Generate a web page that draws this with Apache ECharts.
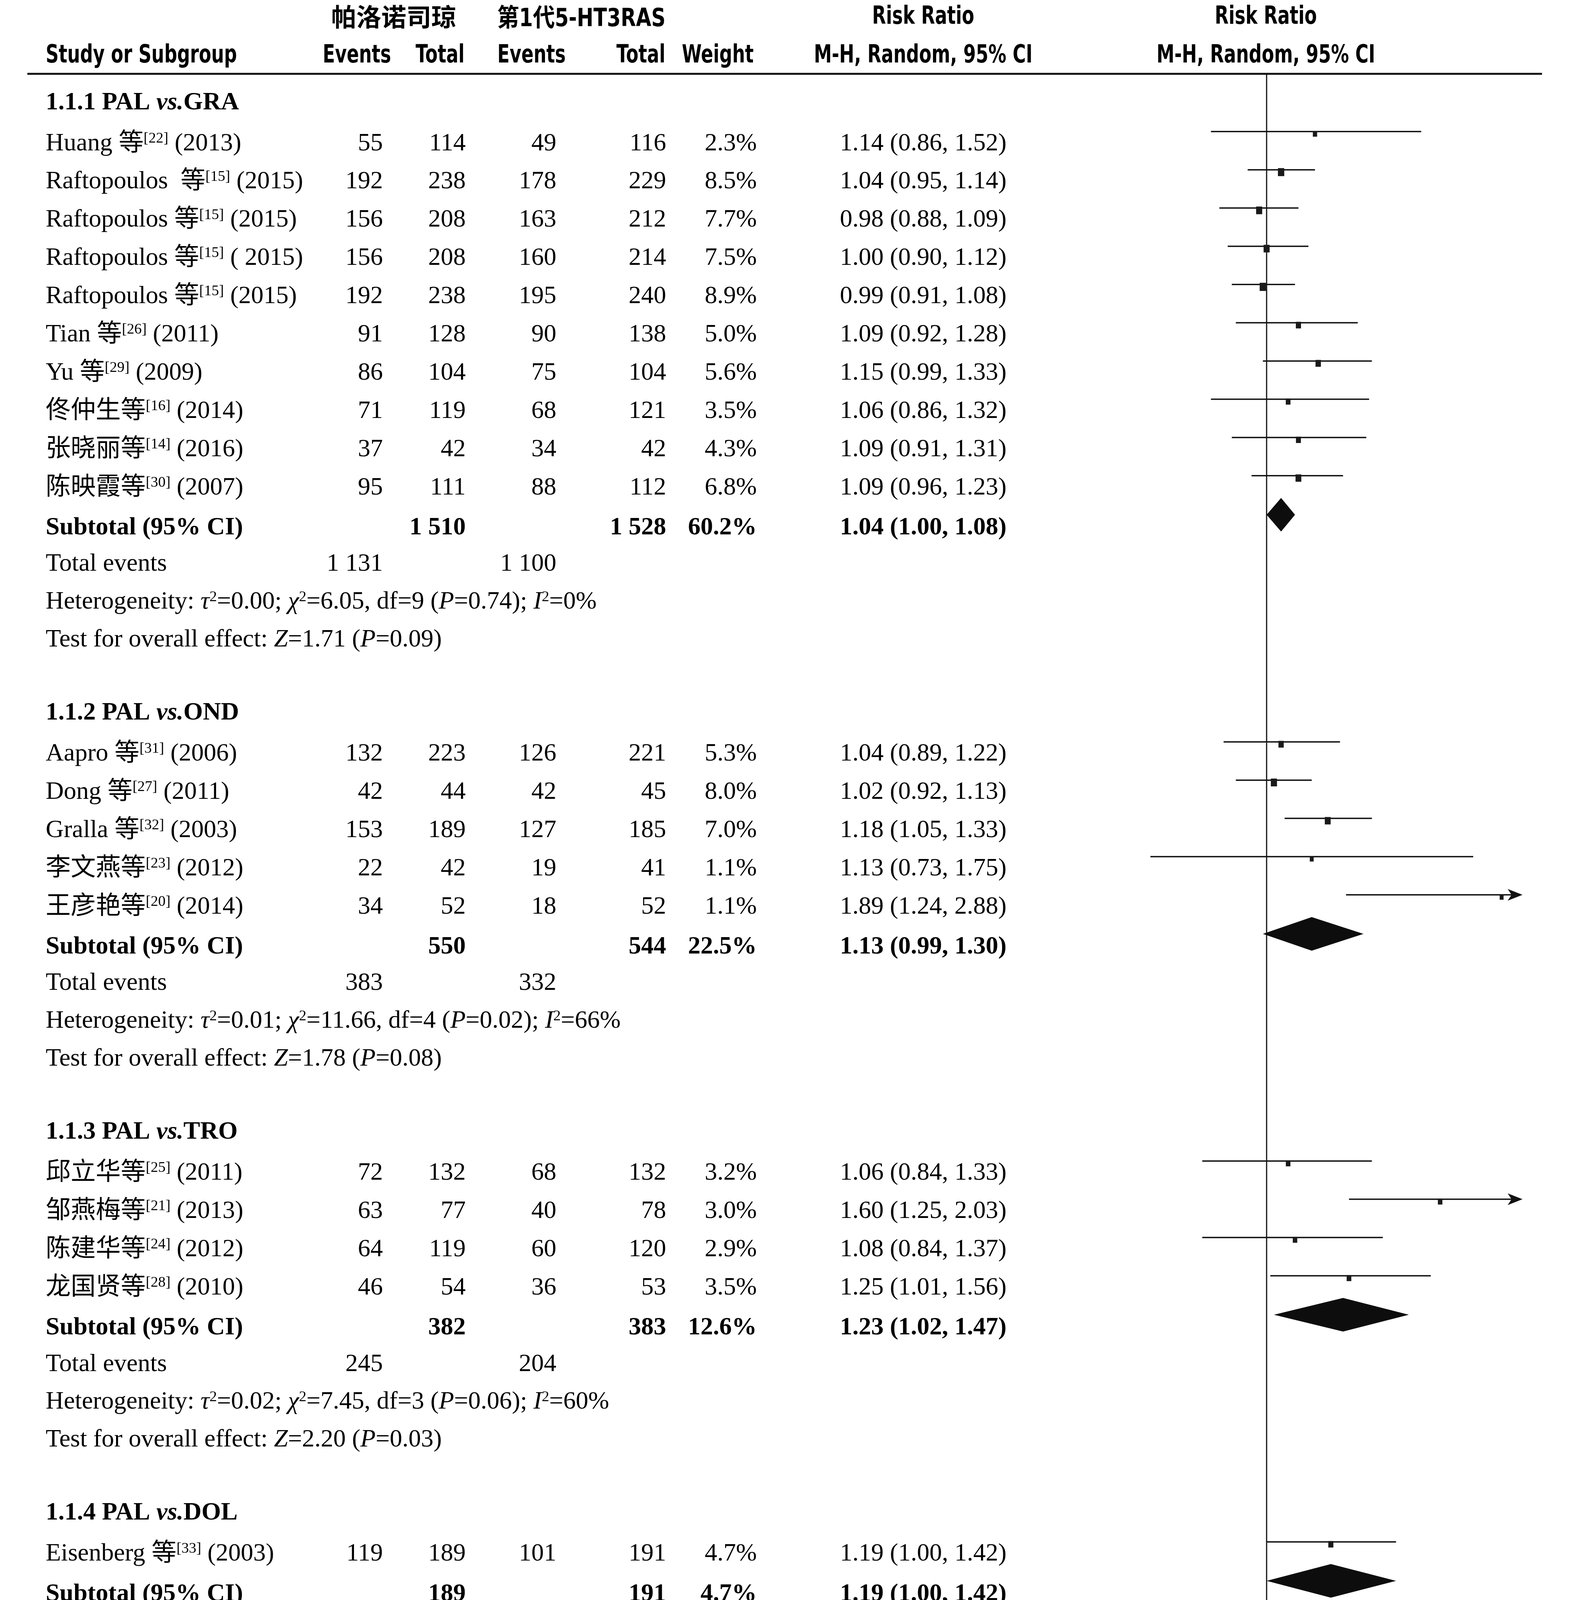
<!DOCTYPE html>
<html><head><meta charset="utf-8">
<script src="https://cdn.jsdelivr.net/npm/echarts@6/dist/echarts.min.js"></script>
<style>html,body{margin:0;padding:0;background:#fff;overflow:hidden}#c{width:4016px;height:5020px}</style>
</head><body><div id="c"></div>
<script>
// ---------------- DATA ----------------
const groupCodes   = ['1.1.1', '1.1.2', '1.1.3', '1.1.4'];
const groupCompare = ['GRA', 'OND', 'TRO', 'DOL'];
const studyGroup  = [0,0,0,0,0,0,0,0,0,0, 1,1,1,1,1, 2,2,2,2, 3];
const studyAuthor = ['Huang 等','Raftopoulos  等','Raftopoulos 等','Raftopoulos 等','Raftopoulos 等','Tian 等','Yu 等','佟仲生等','张晓丽等','陈映霞等',
                     'Aapro 等','Dong 等','Gralla 等','李文燕等','王彦艳等',
                     '邱立华等','邹燕梅等','陈建华等','龙国贤等',
                     'Eisenberg 等'];
const studyRef  = [22,15,15,15,15,26,29,16,14,30, 31,27,32,23,20, 25,21,24,28, 33];
const studyYear = ['(2013)','(2015)','(2015)','( 2015)','(2015)','(2011)','(2009)','(2014)','(2016)','(2007)',
                   '(2006)','(2011)','(2003)','(2012)','(2014)',
                   '(2011)','(2013)','(2012)','(2010)',
                   '(2003)'];
const palEvents = [55,192,156,156,192,91,86,71,37,95, 132,42,153,22,34, 72,63,64,46, 119];
const palTotal  = [114,238,208,208,238,128,104,119,42,111, 223,44,189,42,52, 132,77,119,54, 189];
const ctlEvents = [49,178,163,160,195,90,75,68,34,88, 126,42,127,19,18, 68,40,60,36, 101];
const ctlTotal  = [116,229,212,214,240,138,104,121,42,112, 221,45,185,41,52, 132,78,120,53, 191];
const weightPct = [2.3,8.5,7.7,7.5,8.9,5.0,5.6,3.5,4.3,6.8, 5.3,8.0,7.0,1.1,1.1, 3.2,3.0,2.9,3.5, 4.7];
const riskRatio = [1.14,1.04,0.98,1.00,0.99,1.09,1.15,1.06,1.09,1.09, 1.04,1.02,1.18,1.13,1.89, 1.06,1.60,1.08,1.25, 1.19];
const ciLow     = [0.86,0.95,0.88,0.90,0.91,0.92,0.99,0.86,0.91,0.96, 0.89,0.92,1.05,0.73,1.24, 0.84,1.25,0.84,1.01, 1.00];
const ciHigh    = [1.52,1.14,1.09,1.12,1.08,1.28,1.33,1.32,1.31,1.23, 1.22,1.13,1.33,1.75,2.88, 1.33,2.03,1.37,1.56, 1.42];

const subPalTotal  = [1510, 550, 382, 189];
const subCtlTotal  = [1528, 544, 383, 191];
const subWeight    = [60.2, 22.5, 12.6, 4.7];
const subRR        = [1.04, 1.13, 1.23, 1.19];
const subLow       = [1.00, 0.99, 1.02, 1.00];
const subHigh      = [1.08, 1.30, 1.47, 1.42];
const subPalEvents = [1131, 383, 245, 119];
const subCtlEvents = [1100, 332, 204, 101];
const subTau2 = ['0.00', '0.01', '0.02', null];
const subChi2 = ['6.05', '11.66', '7.45', null];
const subDf   = ['df=9', 'df=4', 'df=3', null];
const subHetP = ['0.74', '0.02', '0.06', null];
const subI2   = ['0', '66', '60', null];
const subZ    = ['1.71', '1.78', '2.20', '1.98'];
const subZP   = ['0.09', '0.08', '0.03', '0.05'];

const totPalTotal = 2631, totCtlTotal = 2646, totWeight = 100.0;
const totRR = 1.09, totLow = 1.04, totHigh = 1.14;
const totPalEvents = 1878, totCtlEvents = 1737;
const totTau2 = '0.00', totChi2 = '34.36', totDf = 'df =19', totHetP = '0.02', totI2 = '45';
const totZ = '3.54', totZP = '0.000 4';
const diffChi2 = '6.40', diffDf = 'df =3', diffP = '0.09', diffI2 = '53.2';

const tickValues = [0.5, 0.7, 1, 1.5, 2];
const tickLabels = ['0.5', '0.7', '1', '1.5', '2'];

// ---------------- LAYOUT / STYLE ----------------
const W = 4016, H = 5020;
const ROW0 = 263, STEP = 97.9;
const GRID_TOP = 189, GRID_BOT = 4736;
const X_LEFT = 2587, X_RIGHT = 3897;
const XMIN = 0.5, XMAX = 2;
const U_MIN = (GRID_TOP - ROW0) / STEP, U_MAX = (GRID_BOT - ROW0) / STEP;
const COL = {label: 117, ev1: 980, tot1: 1192, ev2: 1424, tot2: 1705, wt: 1937, ci: 2363};
const INK = '#111';

function hasFont(name) {
  const c = document.createElement('canvas').getContext('2d');
  const s = 'Study or Subgroup 0.5 Risk';
  c.font = 'bold 64px monospace'; const a = c.measureText(s).width;
  c.font = "bold 64px '" + name + "', monospace"; const b = c.measureText(s).width;
  return Math.abs(a - b) > 1;
}
let SANS, SX, SX_MIX;
if (hasFont('Liberation Sans Narrow')) { SANS = "'Liberation Sans Narrow','Noto Sans CJK SC',sans-serif"; SX = 1; SX_MIX = 1; }
else if (hasFont('DejaVu Sans Condensed')) { SANS = "'DejaVu Sans Condensed','Noto Sans CJK SC',sans-serif"; SX = 0.80; SX_MIX = 0.88; }
else { SANS = "'Liberation Sans','Noto Sans CJK SC',sans-serif"; SX = 0.82; SX_MIX = 0.9; }
const SERIF = "'Liberation Serif','Noto Sans CJK SC',serif";
const FS = 64, FS_SUP = 38;

function richFor(bold) {
  const w = bold ? 'bold' : 'normal';
  return {
    i:  {fontFamily: SERIF, fontSize: FS, fontWeight: w, fontStyle: 'italic', fill: '#000'},
    bi: {fontFamily: SERIF, fontSize: FS, fontWeight: 'bold', fontStyle: 'italic', fill: '#000'},
    s:  {fontFamily: SERIF, fontSize: FS_SUP, fontWeight: w, verticalAlign: 'top', fill: '#000'}
  };
}
const RICH = richFor(false), RICH_B = richFor(true);

const fmtN = n => n >= 1000 ? String(n).replace(/(\d)(?=(\d{3})+$)/g, '$1 ') : String(n);
const fmtCI = (r, l, h) => r.toFixed(2) + ' (' + l.toFixed(2) + ', ' + h.toFixed(2) + ')';
const hetText = (t, c, d, p, i) => 'Heterogeneity: {i|τ}{s|2}=' + t + '; {i|χ}{s|2}=' + c + ', ' + d + ' ({i|P}=' + p + '); {i|I}{s|2}=' + i + '%';
const testText = (z, p) => 'Test for overall effect: {i|Z}=' + z + ' ({i|P}=' + p + ')';

// ---------------- BUILD ROWS ----------------
const rows = [];
const studyMarks = [];
const sumMarks = [];
const C = (x, align, text, bold) => ({x, align, text, bold: !!bold});
let u = 0;
groupCodes.forEach((code, g) => {
  if (g > 0) u += 1.91;
  rows.push({u, cells: [C(COL.label, 'left', code + ' PAL {bi|vs.}' + groupCompare[g], true)]});
  let first = true;
  studyGroup.forEach((sg, i) => {
    if (sg !== g) return;
    u += first ? 1.07 : 1; first = false;
    rows.push({u, cells: [
      C(COL.label, 'left', studyAuthor[i] + '{s|[' + studyRef[i] + ']} ' + studyYear[i]),
      C(COL.ev1, 'right', fmtN(palEvents[i])), C(COL.tot1, 'right', fmtN(palTotal[i])),
      C(COL.ev2, 'right', fmtN(ctlEvents[i])), C(COL.tot2, 'right', fmtN(ctlTotal[i])),
      C(COL.wt, 'right', weightPct[i].toFixed(1) + '%'),
      C(COL.ci, 'center', fmtCI(riskRatio[i], ciLow[i], ciHigh[i]))
    ]});
    studyMarks.push([riskRatio[i], ciLow[i], ciHigh[i], u, weightPct[i]]);
  });
  u += 1.05;
  rows.push({u, cells: [
    C(COL.label, 'left', 'Subtotal (95% CI)', true),
    C(COL.tot1, 'right', fmtN(subPalTotal[g]), true), C(COL.tot2, 'right', fmtN(subCtlTotal[g]), true),
    C(COL.wt, 'right', subWeight[g].toFixed(1) + '%', true),
    C(COL.ci, 'center', fmtCI(subRR[g], subLow[g], subHigh[g]), true)
  ]});
  sumMarks.push([subRR[g], subLow[g], subHigh[g], u]);
  u += 0.95;
  rows.push({u, cells: [C(COL.label, 'left', 'Total events'), C(COL.ev1, 'right', fmtN(subPalEvents[g])), C(COL.ev2, 'right', fmtN(subCtlEvents[g]))]});
  u += 0.99;
  rows.push({u, cells: [C(COL.label, 'left', subTau2[g] === null ? 'Heterogeneity: Not applicable' : hetText(subTau2[g], subChi2[g], subDf[g], subHetP[g], subI2[g]))]});
  u += 0.99;
  rows.push({u, cells: [C(COL.label, 'left', testText(subZ[g], subZP[g]))]});
});
u += 2.11;
rows.push({u, cells: [
  C(COL.label, 'left', 'Total (95% CI)', true),
  C(COL.tot1, 'right', fmtN(totPalTotal), true), C(COL.tot2, 'right', fmtN(totCtlTotal), true),
  C(COL.wt, 'right', totWeight.toFixed(1) + '%', true),
  C(COL.ci, 'center', fmtCI(totRR, totLow, totHigh), true)
]});
sumMarks.push([totRR, totLow, totHigh, u]);
u += 0.93;
rows.push({u, cells: [C(COL.label, 'left', 'Total events'), C(COL.ev1, 'right', fmtN(totPalEvents)), C(COL.ev2, 'right', fmtN(totCtlEvents))]});
u += 1.05;
rows.push({u, cells: [C(COL.label, 'left', hetText(totTau2, totChi2, totDf, totHetP, totI2))]});
u += 0.96;
rows.push({u, cells: [C(COL.label, 'left', testText(totZ, totZP))]});
u += 0.97;
rows.push({u, cells: [C(COL.label, 'left', 'Test for subgroup differences: {i|χ}{s|2}=' + diffChi2 + ', ' + diffDf + ' ({i|P}=' + diffP + '), {i|I}{s|2}=' + diffI2 + '%')]});

// ---------------- ELEMENT HELPERS ----------------
function serifText(x, y, text, align, bold) {
  return {type: 'text', x, y, silent: true, style: {
    text, x: 0, y: 0, fontFamily: SERIF, fontSize: FS, fontWeight: bold ? 'bold' : 'normal', fill: '#000',
    align, verticalAlign: 'middle', textAlign: align, textVerticalAlign: 'middle', rich: bold ? RICH_B : RICH}};
}
const isCJKOnly = t => /^[\u3400-\u9fff]+$/.test(t);
const hasCJK = t => /[\u3400-\u9fff]/.test(t);
function sansText(x, y, text, align) {
  const sx = isCJKOnly(text) ? 1 : (hasCJK(text) ? SX_MIX : SX);
  return {type: 'text', x, y, scaleX: sx, silent: true, style: {
    text, x: 0, y: 0, fontFamily: SANS, fontSize: FS, fontWeight: 'bold', fill: '#000',
    align, verticalAlign: 'middle', textAlign: align, textVerticalAlign: 'middle'}};
}

const LINE_OFF = -31, DIA_OFF = -34, DIA_H = 43;

const option = {
  animation: false,
  backgroundColor: '#fff',
  grid: {left: X_LEFT, right: W - X_RIGHT, top: GRID_TOP, bottom: H - GRID_BOT, containLabel: false},
  xAxis: {type: 'log', logBase: 10, min: XMIN, max: XMAX,
    axisLine: {show: true, onZero: false, lineStyle: {color: INK, width: 4}},
    axisTick: {show: false}, axisLabel: {show: false}, splitLine: {show: false}},
  yAxis: {type: 'value', inverse: true, min: U_MIN, max: U_MAX, show: false, splitLine: {show: false}},
  graphic: [
    {type: 'line', silent: true, shape: {x1: 70, y1: GRID_TOP, x2: 3947, y2: GRID_TOP}, style: {stroke: INK, lineWidth: 5}},
    sansText(1008, 50, '帕洛诺司琼', 'center'),
    sansText(1488, 50, '第1代5-HT3RAS', 'center'),
    sansText(2363, 44, 'Risk Ratio', 'center'),
    sansText(3240, 44, 'Risk Ratio', 'center'),
    sansText(117, 143, 'Study or Subgroup', 'left'),
    sansText(1001, 143, 'Events', 'right'),
    sansText(1189, 143, 'Total', 'right'),
    sansText(1448, 143, 'Events', 'right'),
    sansText(1703, 143, 'Total', 'right'),
    sansText(1929, 143, 'Weight', 'right'),
    sansText(2363, 143, 'M-H, Random, 95% CI', 'center'),
    sansText(3240, 143, 'M-H, Random, 95% CI', 'center'),
    sansText(2911, 4902, '利于第1代5-HT3RAS', 'center'),
    sansText(3631, 4902, '利于帕洛诺司琼', 'center')
  ],
  series: [
    {
      type: 'custom', clip: false, silent: true,
      data: rows.map(r => [1, r.u]),
      encode: {x: 0, y: 1},
      renderItem: (params, api) => {
        const r = rows[params.dataIndex];
        const y = api.coord([1, api.value(1)])[1];
        return {type: 'group', children: r.cells.map(c => serifText(c.x, y, c.text, c.align, c.bold))};
      }
    },
    {
      type: 'custom', clip: false, silent: true,
      data: [[1, U_MIN, U_MAX]],
      encode: {x: 0, y: [1, 2]},
      renderItem: (params, api) => {
        const p1 = api.coord([api.value(0), api.value(1)]);
        const p2 = api.coord([api.value(0), api.value(2)]);
        return {type: 'line', shape: {x1: p1[0], y1: p1[1], x2: p2[0], y2: p2[1]}, style: {stroke: INK, lineWidth: 3}};
      }
    },
    {
      type: 'custom', clip: false, silent: true,
      data: studyMarks,
      encode: {x: [0, 1, 2], y: 3},
      renderItem: (params, api) => {
        const rr = api.value(0), lo = api.value(1), hi = api.value(2), uu = api.value(3), w = api.value(4);
        const yc = api.coord([1, uu])[1] + LINE_OFF;
        const xl = api.coord([Math.max(lo, XMIN), uu])[0];
        const xh = api.coord([Math.min(hi, XMAX), uu])[0];
        const xr = api.coord([rr, uu])[0];
        const over = hi > XMAX;
        const sw = 9 + 0.85 * w, sh = 12 + 1.0 * w;
        const ch = [
          {type: 'line', shape: {x1: xl, y1: yc, x2: over ? xh - 27 : xh, y2: yc}, style: {stroke: INK, lineWidth: 3.5}},
          {type: 'rect', shape: {x: xr - sw / 2, y: yc + 6 - sh / 2, width: sw, height: sh}, style: {fill: '#1a1a1a'}}
        ];
        if (over) ch.push({type: 'polygon', shape: {points: [[xh, yc], [xh - 38, yc - 15], [xh - 28, yc], [xh - 38, yc + 15]]}, style: {fill: INK}});
        return {type: 'group', children: ch};
      }
    },
    {
      type: 'custom', clip: false, silent: true,
      data: sumMarks,
      encode: {x: [0, 1, 2], y: 3},
      renderItem: (params, api) => {
        const rr = api.value(0), lo = api.value(1), hi = api.value(2), uu = api.value(3);
        const yc = api.coord([1, uu])[1] + DIA_OFF;
        const xl = api.coord([lo, uu])[0], xh = api.coord([hi, uu])[0], xr = api.coord([rr, uu])[0];
        return {type: 'polygon', shape: {points: [[xl, yc], [xr, yc - DIA_H], [xh, yc], [xr, yc + DIA_H]]}, style: {fill: '#0d0d0d'}};
      }
    },
    {
      type: 'custom', clip: false, silent: true,
      data: tickValues.map(v => [v, U_MAX]),
      encode: {x: 0, y: 1},
      renderItem: (params, api) => {
        const p = api.coord([api.value(0), api.value(1)]);
        return {type: 'group', children: [
          {type: 'line', shape: {x1: p[0], y1: p[1] - 26, x2: p[0], y2: p[1] + 26}, style: {stroke: INK, lineWidth: 3}},
          sansText(p[0], p[1] + 75, tickLabels[params.dataIndex], 'center')
        ]};
      }
    }
  ]
};
const chart = echarts.init(document.getElementById('c'), null, {renderer: 'canvas', width: W, height: H});
chart.setOption(option);
</script></body></html>
